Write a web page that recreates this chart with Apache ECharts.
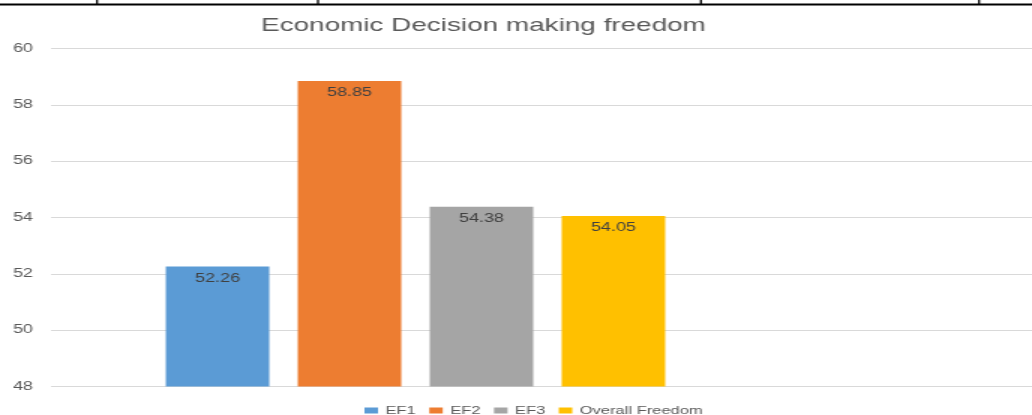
<!DOCTYPE html>
<html>
<head>
<meta charset="utf-8">
<script src="https://cdn.jsdelivr.net/npm/echarts@6/dist/echarts.min.js"></script>
<style>
  html, body { margin: 0; padding: 0; background: #ffffff; overflow: hidden; }
  /* the chart is laid out narrow and widened horizontally, like a stretched office chart */
  #chart { width: 688px; height: 415px; transform: scaleX(1.5); transform-origin: 0 0; }
</style>
</head>
<body>
<div id="chart"></div>
<script>
// chart data
const chartTitle = 'Economic Decision making freedom';
const categories = [''];
const seriesNames = ['EF1', 'EF2', 'EF3', 'Overall Freedom'];
const seriesValues = [52.26, 58.85, 54.38, 54.05];
const seriesColors = ['#5B9BD5', '#ED7D31', '#A5A5A5', '#FFC000'];
const yMin = 48, yMax = 60, yStep = 2;

const FONT = '"Liberation Sans", Arial, sans-serif';

const chart = echarts.init(document.getElementById('chart'), null, { renderer: 'canvas' });

const series = seriesNames.map((name, i) => ({
  name: name,
  type: 'bar',
  xAxisIndex: 0,
  yAxisIndex: 0,
  data: [seriesValues[i]],
  barWidth: 69,
  barGap: '27.5%',
  itemStyle: { color: seriesColors[i] },
  label: {
    show: true,
    position: 'insideTop',
    distance: 6,
    color: '#404040',
    fontFamily: FONT,
    fontSize: 12,
    formatter: p => p.value.toFixed(2)
  },
  emphasis: { disabled: true },
  z: 3
}));

chart.setOption({
  animation: false,
  backgroundColor: '#ffffff',
  title: {
    text: chartTitle,
    left: 174,
    top: 16,
    padding: 0,
    textStyle: { color: '#595959', fontFamily: FONT, fontSize: 18.6, fontWeight: 'normal' }
  },
  legend: {
    data: seriesNames,
    left: 243,
    top: 405,
    padding: 0,
    itemWidth: 9,
    itemHeight: 6,
    itemGap: 9,
    icon: 'rect',
    textStyle: { color: '#595959', fontFamily: FONT, fontSize: 11 }
  },
  grid: [
    // bar area: a single category group
    { left: 34, top: 48.5, width: 486, bottom: 28.5, containLabel: false },
    // full-width area carrying the value axis and its gridlines
    { left: 34, top: 48.5, right: 0, bottom: 28.5, containLabel: false }
  ],
  xAxis: [
    { type: 'category', gridIndex: 0, data: categories, show: false },
    { type: 'category', gridIndex: 1, data: categories, show: false }
  ],
  yAxis: [
    { type: 'value', gridIndex: 0, min: yMin, max: yMax, interval: yStep, show: false },
    {
      type: 'value', gridIndex: 1, min: yMin, max: yMax, interval: yStep,
      axisLine: { show: false },
      axisTick: { show: false },
      axisLabel: { color: '#595959', fontFamily: FONT, fontSize: 12, margin: 12 },
      splitLine: { lineStyle: { color: '#d9d9d9', width: 1 } }
    }
  ],
  series: series,
  graphic: [
    // ruled border of the surrounding table
    { type: 'line', shape: { x1: 0, y1: 4.5, x2: 688, y2: 4.5 }, style: { stroke: '#000', lineWidth: 2 }, silent: true },
    { type: 'line', shape: { x1: 64.7, y1: 0, x2: 64.7, y2: 4 }, style: { stroke: '#000', lineWidth: 1.3 }, silent: true },
    { type: 'line', shape: { x1: 212, y1: 0, x2: 212, y2: 4 }, style: { stroke: '#000', lineWidth: 1.3 }, silent: true },
    { type: 'line', shape: { x1: 467.3, y1: 0, x2: 467.3, y2: 4 }, style: { stroke: '#000', lineWidth: 1.3 }, silent: true },
    { type: 'line', shape: { x1: 652.7, y1: 0, x2: 652.7, y2: 4 }, style: { stroke: '#000', lineWidth: 1.3 }, silent: true }
  ]
});
</script>
</body>
</html>
